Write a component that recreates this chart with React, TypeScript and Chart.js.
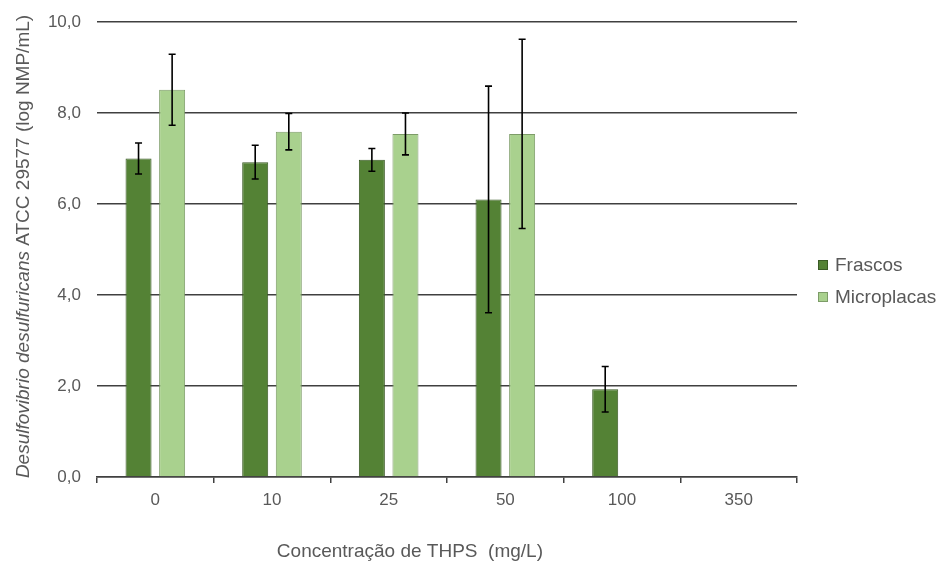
import React, { useEffect, useRef } from "react";
import { Chart, registerables } from "chart.js";
Chart.register(...registerables);

const categories = ["0", "10", "25", "50", "100", "350"];
const frascos: (number | null)[] = [7.0, 6.92, 6.97, 6.1, 1.93, null];
const frascosErr: (number | null)[] = [0.34, 0.37, 0.25, 2.49, 0.5, null];
const microplacas: (number | null)[] = [8.51, 7.59, 7.54, 7.54, null, null];
const microplacasErr: (number | null)[] = [0.78, 0.4, 0.46, 2.08, null, null];
const yMin = 0;
const yMax = 10;
const yStep = 2;
const seriesNames = ["Frascos", "Microplacas"];
const xTitle = "Concentração de THPS  (mg/L)";
const yTitleItalic = "Desulfovibrio desulfuricans";
const yTitleNormal = " ATCC 29577 (log NMP/mL)";

const FONT = "'Liberation Sans', Arial, sans-serif";
const GRAY = "#595959";
const fills = ["#548235", "#a9d18e"];
const borders = ["#3a5a25", "#7d9c68"];

export default function App() {
  const ref = useRef<HTMLCanvasElement | null>(null);
  useEffect(() => {
    const canvas = ref.current!;
    const errs = [frascosErr, microplacasErr];
    const errorBars = {
      id: "errorBars",
      afterDatasetsDraw(chart: any) {
        const ctx = chart.ctx;
        const y = chart.scales.y;
        ctx.save();
        ctx.strokeStyle = "#000";
        ctx.lineWidth = 1.6;
        chart.data.datasets.forEach((ds: any, i: number) => {
          const meta = chart.getDatasetMeta(i);
          meta.data.forEach((el: any, j: number) => {
            const v = ds.data[j];
            const e = errs[i][j];
            if (v == null || e == null) return;
            const x = el.x;
            const yt = y.getPixelForValue(v + e);
            const yb = y.getPixelForValue(v - e);
            ctx.beginPath();
            ctx.moveTo(x, yt);
            ctx.lineTo(x, yb);
            ctx.moveTo(x - 3.5, yt);
            ctx.lineTo(x + 3.5, yt);
            ctx.moveTo(x - 3.5, yb);
            ctx.lineTo(x + 3.5, yb);
            ctx.stroke();
          });
        });
        ctx.restore();
      },
    };
    const decorations = {
      id: "decorations",
      afterDraw(chart: any) {
        const ctx = chart.ctx;
        const ca = chart.chartArea;
        ctx.save();
        // y title
        ctx.fillStyle = GRAY;
        ctx.textBaseline = "middle";
        ctx.textAlign = "left";
        const fi = "italic 19px " + FONT;
        const fn = "19px " + FONT;
        ctx.font = fi;
        const wi = ctx.measureText(yTitleItalic).width;
        ctx.font = fn;
        const wn = ctx.measureText(yTitleNormal).width;
        ctx.translate(24, (ca.top + ca.bottom) / 2 - 3);
        ctx.rotate(-Math.PI / 2);
        const start = -(wi + wn) / 2;
        ctx.font = fi;
        ctx.fillText(yTitleItalic, start, 0);
        ctx.font = fn;
        ctx.fillText(yTitleNormal, start + wi, 0);
        ctx.restore();

        ctx.save();
        // x title
        ctx.fillStyle = GRAY;
        ctx.font = "19px " + FONT;
        ctx.textAlign = "center";
        ctx.textBaseline = "middle";
        ctx.fillText(xTitle, ca.left + (ca.right - ca.left) * 0.447, 552);
        // legend
        ctx.font = "19px " + FONT;
        ctx.textAlign = "left";
        seriesNames.forEach((n, i) => {
          const cy = 265 + i * 32;
          const bx = ca.right + 21;
          ctx.fillStyle = fills[i];
          ctx.fillRect(bx, cy - 5, 10, 10);
          ctx.strokeStyle = borders[i];
          ctx.lineWidth = 1;
          ctx.strokeRect(bx + 0.5, cy - 4.5, 9, 9);
          ctx.fillStyle = GRAY;
          ctx.fillText(n, bx + 17, cy + 1);
        });
        ctx.restore();
      },
    };
    const chart = new Chart(canvas, {
      type: "bar",
      data: {
        labels: categories,
        datasets: [
          {
            label: seriesNames[0],
            data: frascos,
            backgroundColor: fills[0],
            borderColor: borders[0],
            borderWidth: 1,
            categoryPercentage: 0.576,
            barPercentage: 0.774,
          },
          {
            label: seriesNames[1],
            data: microplacas,
            backgroundColor: fills[1],
            borderColor: borders[1],
            borderWidth: 1,
            categoryPercentage: 0.576,
            barPercentage: 0.774,
          },
        ] as any,
      },
      options: {
        responsive: false,
        animation: false,
        layout: { padding: { left: 0, top: 22, right: 146, bottom: 0 } },
        plugins: { legend: { display: false }, tooltip: { enabled: false } },
        scales: {
          x: {
            grid: {
              offset: true,
              drawOnChartArea: false,
              drawTicks: true,
              tickLength: 6,
              color: "#404040",
              lineWidth: 1.5,
            },
            border: { display: true, color: "#404040", width: 1.5 },
            ticks: {
              color: GRAY,
              font: { family: FONT, size: 17 },
              padding: 7,
              maxRotation: 0,
            },
            afterFit(scale: any) {
              scale.height = 91;
            },
          },
          y: {
            min: yMin,
            max: yMax,
            ticks: {
              stepSize: yStep,
              color: GRAY,
              font: { family: FONT, size: 17 },
              padding: 16,
              callback: (v: any) => Number(v).toFixed(1).replace(".", ","),
            },
            grid: { color: "#404040", lineWidth: 1.5, drawTicks: false },
            border: { display: false },
            afterFit(scale: any) {
              scale.width = 97;
              scale.paddingTop = 0;
              scale.paddingBottom = 0;
            },
          },
        },
      },
      plugins: [errorBars, decorations],
    });
    return () => chart.destroy();
  }, []);
  return (
    <div style={{ position: "absolute", left: 0, top: 0, width: 943, height: 568, background: "#fff" }}>
      <canvas ref={ref} width={943} height={568} style={{ display: "block" }} />
    </div>
  );
}
